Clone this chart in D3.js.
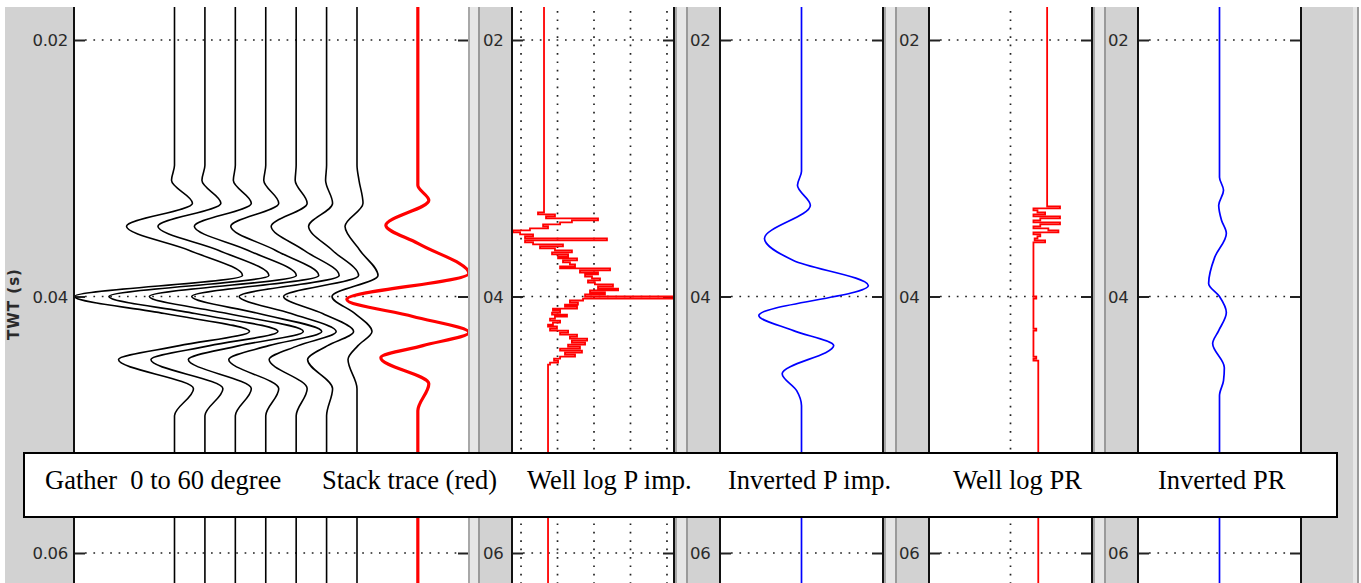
<!DOCTYPE html>
<html><head><meta charset="utf-8">
<script src="https://cdn.jsdelivr.net/npm/d3@7"></script>
<style>
body{margin:0;background:#fff;}
svg{display:block;}
text{white-space:pre;}
</style></head><body>
<svg id="c" width="1361" height="583"></svg>
<script>
// ================= DATA =================
const timeTicks = [0.02, 0.04, 0.06];                 // seconds
const mainTickLabels = ["0.02", "0.04", "0.06"];
const shortTickLabels = ["02", "04", "06"];
const yAxisTitle = "TWT (s)";
const legendLabels = ["Gather  0 to 60 degree", "Stack trace (red)", "Well log P imp.",
                      "Inverted P imp.", "Well log PR", "Inverted PR"];

// Gather (wiggle traces), knot times in ms, normalized amplitudes
const gatherAngles = [0, 10, 20, 30, 40, 50, 60];
const gatherTimesMs = [29.77, 30.94, 32.73, 34.53, 36.41, 38.36, 40.00, 41.33, 42.73, 43.83, 44.92, 47.19, 49.30];
const gatherAmp00 = [0, -0.03, 0.18, -0.48, 0.15, 0.68, -1.00, -0.10, 0.75, 0.05, -0.56, 0.19, 0];
const gatherAmp10 = [0, -0.03, 0.16, -0.47, 0.14, 0.64, -0.96, -0.10, 0.73, 0.05, -0.54, 0.18, 0];
const gatherAmp20 = [0, -0.02, 0.16, -0.41, 0.13, 0.61, -0.86, -0.08, 0.68, 0.04, -0.47, 0.16, 0];
const gatherAmp30 = [0, -0.02, 0.13, -0.35, 0.10, 0.53, -0.74, -0.07, 0.56, 0.03, -0.37, 0.13, 0];
const gatherAmp40 = [0, -0.01, 0.11, -0.25, 0.08, 0.43, -0.57, -0.05, 0.40, 0.02, -0.27, 0.11, 0];
const gatherAmp50 = [0, -0.01, 0.06, -0.18, 0.06, 0.32, -0.43, -0.04, 0.27, 0.01, -0.19, 0.06, 0];
const gatherAmp60 = [0, 0.02, 0.06, -0.12, 0.03, 0.21, -0.25, -0.02, 0.15, 0.01, -0.09, 0.00, 0];

// Stack trace (red)
const stackPosition = 80;
const stackTimesMs = [30.31, 31.33, 32.50, 34.45, 35.86, 38.20, 40.23, 41.56, 42.81, 43.83, 44.77, 46.80, 48.91];
const stackAmp = [0, 0, 0.11, -0.32, 0.00, 0.51, -0.71, -0.05, 0.51, 0.05, -0.37, 0.11, 0];

// Well log P impedance (blocky), grid values
const pImpGrid = [4, 6, 8, 10, 12];
const pImpAbove = 5.26, pImpBelow = 5.48;
const pImpTimesMs = [33.28, 33.44, 33.59, 33.75, 33.91, 34.06, 34.22, 34.38, 34.53, 34.69, 34.84, 35.00, 35.16,
  35.31, 35.47, 35.63, 35.78, 35.94, 36.09, 36.25, 36.41, 36.56, 36.72, 36.88, 37.03, 37.19, 37.34, 37.50, 37.66,
  37.81, 37.97, 38.13, 38.28, 38.44, 38.59, 38.75, 38.91, 39.06, 39.22, 39.38, 39.53, 39.69, 39.84, 40.00, 40.16,
  40.31, 40.47, 40.63, 40.78, 40.94, 41.09, 41.25, 41.41, 41.56, 41.72, 41.88, 42.03, 42.19, 42.34, 42.50, 42.66,
  42.81, 42.97, 43.13, 43.28, 43.44, 43.59, 43.75, 43.91, 44.06, 44.22, 44.38, 44.53, 44.69, 44.84, 45.00, 45.16, 45.31];
const pImpValues = [5.26, 4.93, 5.86, 5.37, 8.22, 6.79, 6.14, 5.21, 5.48, 4.49, 3.56, 3.95, 4.66,
  4.22, 8.71, 4.22, 4.66, 6.30, 5.04, 5.86, 6.79, 5.70, 6.58, 6.03, 7.07, 6.30, 6.68, 6.96, 6.14,
  8.88, 7.23, 8.22, 7.51, 7.89, 8.33, 7.67, 8.05, 9.04, 8.22, 9.32, 7.78, 8.60, 7.51, 12.4, 7.40,
  6.68, 7.12, 6.41, 7.07, 5.75, 6.14, 5.70, 6.52, 5.86, 5.59, 6.14, 5.75, 5.48, 5.97, 5.59, 6.58,
  6.14, 7.07, 6.68, 7.62, 6.79, 7.51, 6.58, 7.23, 6.14, 7.34, 6.41, 6.96, 6.14, 5.81, 6.03, 5.59, 5.48];

// Inverted P impedance (relative)
const invPImpTimesMs = [30.23, 31.33, 32.89, 35.47, 37.19, 39.14, 41.48, 42.66, 43.83, 46.02, 47.34, 48.52];
const invPImpValues = [0, -0.05, 0.11, -0.46, -0.10, 0.83, -0.53, -0.10, 0.40, -0.24, -0.06, 0];

// Well log Poisson's ratio (blocky)
const prGrid = [0.3];
const prAbove = 0.391;
const prTimesMs = [32.97, 33.13, 33.28, 33.44, 33.59, 33.75, 33.91, 34.06, 34.22, 34.38, 34.53, 34.69, 34.84,
  35.00, 35.16, 35.31, 35.47, 35.63, 35.78, 40.00, 40.16, 42.50, 42.66, 44.69, 44.84, 45.00];
const prValues = [0.423, 0.357, 0.367, 0.386, 0.357, 0.423, 0.374, 0.357, 0.423, 0.374, 0.357, 0.394, 0.419,
  0.357, 0.374, 0.367, 0.360, 0.386, 0.357, 0.364, 0.357, 0.364, 0.357, 0.364, 0.357, 0.369];

// Inverted Poisson's ratio (relative)
const invPrTimesMs = [30.70, 31.72, 32.89, 34.06, 35.08, 36.95, 38.98, 40.00, 41.25, 42.66, 43.67, 45.55, 46.56, 47.73];
const invPrValues = [0, 0.010, -0.002, 0.005, 0.017, -0.012, -0.027, 0.000, 0.017, -0.002, -0.017, 0.012, 0.010, 0];

// ================= DRAWING =================
const svg = d3.select("#c");
const TOP = 7, BOT = 583;
const y = d3.scaleLinear().domain([0.02, 0.06]).range([40, 553]);
const tTop = y.invert(TOP), tBot = y.invert(BOT);

const GRAY = "#d2d2d2", LIGHT = "#e6e6e6", MID = "#a8a8a8", DARK = "#9a9a9a", BLACK = "#111";

// frame strips [x, width, color]
const frame = [
  [5, 68, GRAY], [73, 2, BLACK],
  [468, 2, MID], [470, 8, LIGHT], [478, 2, DARK], [480, 31, GRAY], [511, 2, BLACK],
  [673, 2, BLACK], [675, 2, MID], [677, 9, LIGHT], [686, 2, DARK], [688, 31, GRAY], [719, 2, BLACK],
  [882, 2, BLACK], [884, 2, MID], [886, 9, LIGHT], [895, 2, DARK], [897, 31, GRAY], [928, 2, BLACK],
  [1091, 2, BLACK], [1093, 2, MID], [1095, 9, LIGHT], [1104, 2, DARK], [1106, 31, GRAY], [1137, 2, BLACK],
  [1300, 2, BLACK], [1302, 51, GRAY], [1353, 4, LIGHT], [1357, 2, DARK]
];
svg.append("g").selectAll("rect").data(frame).join("rect")
  .attr("x", d => d[0]).attr("y", TOP).attr("width", d => d[1]).attr("height", BOT - TOP)
  .attr("fill", d => d[2]);

const plots = [
  {x0: 75, x1: 468, labelX: 68, long: true},
  {x0: 513, x1: 673, labelX: 483},
  {x0: 721, x1: 882, labelX: 690},
  {x0: 930, x1: 1091, labelX: 899},
  {x0: 1139, x1: 1300, labelX: 1108}
];

const defs = svg.append("defs");
plots.forEach((p, i) => {
  defs.append("clipPath").attr("id", "clip" + i).append("rect")
    .attr("x", p.x0).attr("y", TOP).attr("width", p.x1 - p.x0).attr("height", BOT - TOP);
});

const dotStyle = sel => sel.attr("stroke", "#222").attr("stroke-width", 1.7)
  .attr("stroke-dasharray", "1.7 6.7").attr("fill", "none");

// horizontal grid + axes
plots.forEach((p, i) => {
  const g = svg.append("g");
  g.selectAll("line.h").data(timeTicks).join("line").attr("class", "h")
    .attr("x1", p.x0 + 10).attr("x2", p.x1 - 10)
    .attr("y1", d => y(d)).attr("y2", d => y(d)).call(dotStyle);
  const labels = p.long ? mainTickLabels : shortTickLabels;
  const axL = svg.append("g").attr("transform", `translate(${p.x0},0)`)
    .call(d3.axisLeft(y).tickValues(timeTicks).tickSize(-10).tickPadding(0)
      .tickFormat((d, k) => labels[k]));
  axL.select(".domain").remove();
  axL.selectAll(".tick line").attr("stroke", "#222").attr("stroke-width", 2);
  axL.selectAll(".tick text").attr("fill", "#2a2a2a").attr("font-family", "DejaVu Sans")
    .attr("font-size", 16.5).attr("dy", "0.36em").attr("letter-spacing", -0.3)
    .attr("x", p.labelX - p.x0)
    .attr("text-anchor", p.long ? "end" : "start");
  const axR = svg.append("g").attr("transform", `translate(${p.x1},0)`)
    .call(d3.axisRight(y).tickValues(timeTicks).tickSize(-10).tickFormat(""));
  axR.select(".domain").remove();
  axR.selectAll(".tick line").attr("stroke", "#222").attr("stroke-width", 2);
});

// y-axis title
svg.append("text").attr("transform", "translate(19,304) rotate(-90)")
  .attr("text-anchor", "middle").attr("font-family", "DejaVu Sans").attr("font-size", 15)
  .attr("font-weight", "bold").attr("fill", "#2a2a2a").attr("letter-spacing", 1).text(yAxisTitle);

// ---- Panel 1: gather + stack ----
const xG = d3.scaleLinear().domain([0, 60]).range([174.5, 357]);
const amp = d3.scaleLinear().domain([-1, 1]).range([-100, 100]);
const gatherAmps = [gatherAmp00, gatherAmp10, gatherAmp20, gatherAmp30, gatherAmp40, gatherAmp50, gatherAmp60];
const g1 = svg.append("g").attr("clip-path", "url(#clip0)");
const wiggle = (pos) => d3.line().x(d => xG(pos) + amp(d[1])).y(d => y(d[0])).curve(d3.curveMonotoneY);
gatherAngles.forEach((ang, i) => {
  const pts = [[tTop, 0], ...gatherTimesMs.map((t, j) => [t / 1000, gatherAmps[i][j]]), [tBot, 0]];
  g1.append("path").attr("d", wiggle(ang)(pts)).attr("fill", "none")
    .attr("stroke", "#000").attr("stroke-width", 1.6);
});
{
  const pts = [[tTop, 0], ...stackTimesMs.map((t, j) => [t / 1000, stackAmp[j]]), [tBot, 0]];
  g1.append("path").attr("d", wiggle(stackPosition)(pts)).attr("fill", "none")
    .attr("stroke", "#ff0000").attr("stroke-width", 3.2);
}

// ---- Panel 2: well log P imp ----
const xP = d3.scaleLinear().domain([3.56, 12.33]).range([513, 673]);
const g2 = svg.append("g").attr("clip-path", "url(#clip1)");
g2.selectAll("line.v").data(pImpGrid).join("line").attr("class", "v")
  .attr("x1", d => xP(d)).attr("x2", d => xP(d)).attr("y1", TOP + 4).attr("y2", BOT).call(dotStyle);
{
  const pts = [[tTop, pImpAbove], ...pImpTimesMs.map((t, j) => [t / 1000, pImpValues[j]]),
    [pImpTimesMs[pImpTimesMs.length - 1] / 1000 + 0.00016, pImpBelow], [tBot, pImpBelow]];
  g2.append("path").attr("d", d3.line().x(d => xP(d[1])).y(d => y(d[0])).curve(d3.curveStepBefore)(pts))
    .attr("fill", "none").attr("stroke", "#ff0000").attr("stroke-width", 1.8);
}

// ---- Panel 3: inverted P imp ----
const xIP = d3.scaleLinear().domain([-1, 1]).range([721, 882]);
const g3 = svg.append("g").attr("clip-path", "url(#clip2)");
{
  const pts = [[tTop, 0], ...invPImpTimesMs.map((t, j) => [t / 1000, invPImpValues[j]]), [tBot, 0]];
  g3.append("path").attr("d", d3.line().x(d => xIP(d[1])).y(d => y(d[0])).curve(d3.curveMonotoneY)(pts))
    .attr("fill", "none").attr("stroke", "#0000ff").attr("stroke-width", 1.7);
}

// ---- Panel 4: well log PR ----
const xPR = d3.scaleLinear().domain([0.1, 0.5]).range([930, 1091]);
const g4 = svg.append("g").attr("clip-path", "url(#clip3)");
g4.selectAll("line.v").data(prGrid).join("line").attr("class", "v")
  .attr("x1", d => xPR(d)).attr("x2", d => xPR(d)).attr("y1", TOP + 4).attr("y2", BOT).call(dotStyle);
{
  const pts = [[tTop, prAbove], ...prTimesMs.map((t, j) => [t / 1000, prValues[j]]),
    [tBot, prValues[prValues.length - 1]]];
  g4.append("path").attr("d", d3.line().x(d => xPR(d[1])).y(d => y(d[0])).curve(d3.curveStepBefore)(pts))
    .attr("fill", "none").attr("stroke", "#ff0000").attr("stroke-width", 1.8);
}

// ---- Panel 5: inverted PR ----
const xIPR = d3.scaleLinear().domain([-0.2, 0.2]).range([1139, 1300]);
const g5 = svg.append("g").attr("clip-path", "url(#clip4)");
{
  const pts = [[tTop, 0], ...invPrTimesMs.map((t, j) => [t / 1000, invPrValues[j]]), [tBot, 0]];
  g5.append("path").attr("d", d3.line().x(d => xIPR(d[1])).y(d => y(d[0])).curve(d3.curveMonotoneY)(pts))
    .attr("fill", "none").attr("stroke", "#0000ff").attr("stroke-width", 1.7);
}

// ---- Legend box ----
const legendX = [45, 322, 527, 728, 953, 1158];
const lg = svg.append("g");
lg.append("rect").attr("x", 24).attr("y", 453).attr("width", 1313).attr("height", 64)
  .attr("fill", "#fff").attr("stroke", "#000").attr("stroke-width", 2);
lg.selectAll("text").data(legendLabels).join("text")
  .attr("x", (d, i) => legendX[i]).attr("y", 489)
  .attr("font-family", "Liberation Serif, Times New Roman, serif").attr("font-size", 26.5)
  .attr("fill", "#000").text(d => d);
</script>
</body></html>
